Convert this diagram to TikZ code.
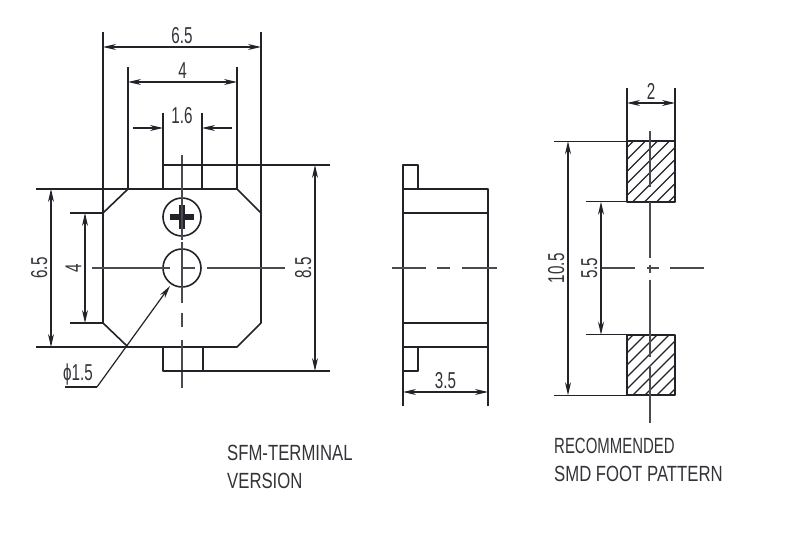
\documentclass[tikz,border=0pt]{standalone}
\usepackage{fontspec}
\setmainfont{Liberation Sans}
\newfontfamily\dimfont[FakeStretch=0.66]{Liberation Sans}
\newfontfamily\notefont[FakeStretch=0.76]{Liberation Sans}
\newfontfamily\narrowfont[FakeStretch=0.68]{Liberation Sans}
\usetikzlibrary{arrows.meta}
\definecolor{inkline}{HTML}{222228}
\definecolor{inkcenter}{HTML}{4A4A50}
\definecolor{inktext}{HTML}{333338}
\tikzset{
	outline/.style={draw=inkline, line width=1.6pt, line join=round},
	thinline/.style={draw=inkline, line width=1.2pt},
	centerline/.style={draw=inkcenter, line width=1.4pt},
	dimline/.style={thinline, {Stealth[length=13pt,width=6pt]}-{Stealth[length=13pt,width=6pt]}},
	pointer/.style={thinline, -{Stealth[length=13pt,width=6pt]}},
	dimtext/.style={font=\dimfont\fontsize{23}{26}\selectfont, text=inktext, inner sep=3pt},
	notetext/.style={font=\notefont\fontsize{22}{28}\selectfont, text=inktext, align=left, anchor=west, inner sep=0pt},
	padbox/.style={outline, minimum width=48pt, minimum height=60.5pt, inner sep=0pt, outer sep=0pt,
		path picture={
			\foreach \d in {-60,-48,...,60}
			{	\draw[thinline] ([xshift=\d pt]path picture bounding box.center) ++(-50pt,-50pt) -- ++(100pt,100pt);
			}
		}},
}
\begin{document}
\begin{tikzpicture}[x=1pt, y=-1pt]
	\useasboundingbox (0,0) rectangle (800,534);

	% front view
	\draw[outline] (128,189) -- (237,189) -- (261,213) -- (261,323) -- (237,347)
		-- (128,347) -- (103,323) -- (103,213) -- cycle;
	\draw[outline] (163,189) -- (163,165) -- (202,165) -- (202,189);
	\draw[outline] (163,347) -- (163,371) -- (203,371) -- (203,347);
	\node[outline, circle, minimum size=38pt, inner sep=0pt] (hole) at (182,268) {};
	\node[outline, circle, minimum size=38pt, inner sep=0pt] (plus) at (182,217) {};
	\draw[line width=5.5pt, inkline] ([xshift=-12pt]plus.center) -- ([xshift=12pt]plus.center);
	\draw[line width=5.5pt, inkline] ([yshift=-12pt]plus.center) -- ([yshift=12pt]plus.center);

	% side view
	\draw[outline] (403,189) rectangle (488,347);
	\draw[outline] (403,213) -- (488,213);
	\draw[outline] (403,323) -- (488,323);
	\draw[outline] (403,189) -- (403,165) -- (418,165) -- (418,189);
	\draw[outline] (403,347) -- (403,371) -- (418,371) -- (418,347);

	% foot pattern
	\node[padbox] (padtop) at (651,171.5) {};
	\node[padbox] (padbot) at (651,365) {};

	% center lines
	\foreach \a/\b/\y in {92/170/268, 183/195/268, 207/285/268, 392/426/268, 437/450/268, 462/497/268, 602/635/268, 647/659/268, 670/704/268}
	{	\draw[centerline] (\a,\y) -- (\b,\y);
	}
	\foreach \x/\a/\b in {182/155/240, 182/242/303, 182/313/327, 182/340/388, 650/131/187, 650/202/258, 650/265/273, 650/280/357, 650/367/423}
	{	\draw[centerline] (\x,\a) -- (\x,\b);
	}

	% dimension ends
	\foreach \n/\x/\y in {a1/103/32, a2/261/32, a3/103/47, a4/261/47, a5/103/213, a6/261/213,
		b1/128/67, b2/237/67, b3/128/82, b4/237/82, b5/128/189, b6/237/189,
		c1/163/113, c2/202/113, c3/163/128, c4/202/128, c5/133/128, c6/232/128, c7/163/165, c8/202/165,
		d1/36/189, d2/36/347, d3/51/189, d4/51/347, d5/128/189, d6/128/347,
		e1/70/213, e2/70/323, e3/85/213, e4/85/323, e5/103/213, e6/103/323,
		f1/330/165, f2/330/371, f3/315/165, f4/315/371, f5/163/165, f6/163/371,
		g1/403/406, g2/488/406, g3/403/392, g4/488/392, g5/403/347, g6/488/347,
		h1/627/88, h2/675/88, h3/627/103, h4/675/103,
		i1/554/141.25, i2/554/395.25, i3/568/141.25, i4/568/395.25, k1/586/201.75, k2/586/334.75, k3/601/201.75, k4/601/334.75,
		m1/97/387, m2/65/387, m3/170/286}
	{	\coordinate (\n) at (\x,\y);
	}

	\foreach \u/\v in {a1/a5, a2/a6, b1/b5, b2/b6, c1/c7, c2/c8, d1/d5, d2/d6, e1/e5, e2/e6, f1/f5, f2/f6, g1/g5, g2/g6,
		h1/padtop.north west, h2/padtop.north east, i1/padtop.north west, i2/padbot.south west, k1/padtop.south west, k2/padbot.north west}
	{	\draw[thinline] (\u) -- (\v);
	}

	\def\across {a3/a4/6.5, b3/b4/4, g3/g4/3.5, h3/h4/2}  % horizontal sizes
	\foreach \u/\v/\size in \across
	{	\draw[dimline] (\u) -- (\v) node [midway, above, dimtext] {\size};
	}
	\def\upright {d3/d4/6.5, e3/e4/4, f3/f4/8.5, i3/i4/10.5, k3/k4/5.5}  % vertical sizes
	\foreach \u/\v/\size in \upright
	{	\draw[dimline] (\u) -- (\v) node [midway, rotate=90, anchor=south, dimtext] {\size};
	}

	\draw[pointer] (c5) -- (c3);
	\draw[pointer] (c6) -- (c4);
	\node[dimtext] (holesize) at (182,116) {1.6};

	\draw[thinline] (m2) -- (m1);
	\draw[pointer] (m1) -- (m3);
	\node[dimtext] (leadtext) at (78,375) {ϕ1.5};

	\node[notetext] (version) at (227,467) {SFM-TERMINAL\\VERSION};
	\node[notetext] (recommend) at (554,460) {{\narrowfont RECOMMENDED}\\SMD FOOT PATTERN};
\end{tikzpicture}
\end{document}
